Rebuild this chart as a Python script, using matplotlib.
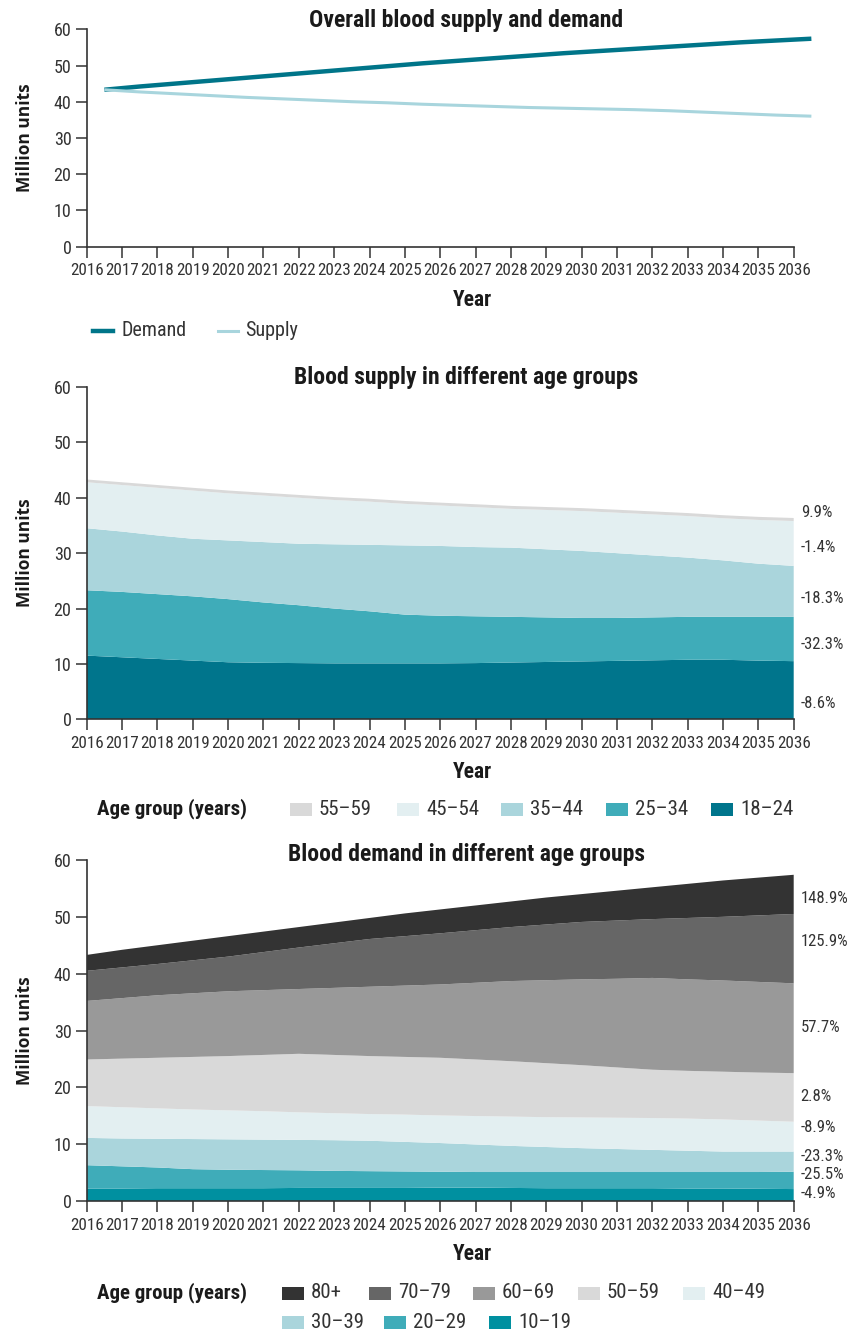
import matplotlib
matplotlib.use("Agg")
import matplotlib.pyplot as plt
import matplotlib.font_manager as fm
from matplotlib.patches import Rectangle
from matplotlib.lines import Line2D

# ----- data -----
years = list(range(2016, 2037))

demand = [43.3, 44.2, 45.0, 45.8, 46.6, 47.4, 48.2, 49.0, 49.8, 50.6, 51.3,
          52.0, 52.7, 53.4, 54.0, 54.6, 55.2, 55.8, 56.4, 56.9, 57.4]
supply = [43.3, 42.7, 42.2, 41.7, 41.2, 40.8, 40.4, 40.0, 39.7, 39.3, 39.0,
          38.7, 38.4, 38.2, 38.0, 37.8, 37.5, 37.1, 36.7, 36.3, 36.0]

# supply by donor age group (million units)
sup_18_24 = [11.5, 11.2, 10.9, 10.6, 10.3, 10.2, 10.15, 10.1, 10.1, 10.1, 10.1,
             10.15, 10.25, 10.35, 10.45, 10.55, 10.65, 10.75, 10.75, 10.6, 10.5]
sup_25_34 = [11.8, 11.8, 11.7, 11.6, 11.4, 10.9, 10.45, 9.9, 9.4, 8.8, 8.6,
             8.45, 8.25, 8.05, 7.85, 7.75, 7.75, 7.75, 7.75, 7.9, 8.0]
sup_35_44 = [11.2, 10.9, 10.6, 10.4, 10.6, 10.9, 11.1, 11.6, 12.0, 12.5, 12.6,
             12.5, 12.5, 12.3, 12.1, 11.7, 11.2, 10.7, 10.2, 9.6, 9.2]
sup_45_54 = [8.3, 8.4, 8.6, 8.7, 8.5, 8.4, 8.3, 8.0, 7.8, 7.5, 7.3,
             7.2, 7.0, 7.1, 7.2, 7.3, 7.4, 7.5, 7.6, 7.9, 8.1]
sup_55_59 = [0.50, 0.50, 0.50, 0.50, 0.51, 0.51, 0.51, 0.52, 0.52, 0.52, 0.52,
             0.53, 0.53, 0.53, 0.53, 0.54, 0.54, 0.54, 0.55, 0.55, 0.55]
sup_labels = ["18\u201324", "25\u201334", "35\u201344", "45\u201354", "55\u201359"]
sup_colors = ["#00758c", "#3facb9", "#aad5dc", "#e3eff1", "#d9d9d9"]
sup_change = ["-8.6%", "-32.3%", "-18.3%", "-1.4%", "9.9%"]
sup_change_y = [2.8, 13.5, 21.9, 31.0, 37.4]

# demand by recipient age group (million units)
dem_10_19 = [2.2, 2.2, 2.25, 2.25, 2.25, 2.25, 2.3, 2.3, 2.3, 2.3, 2.35,
             2.35, 2.3, 2.25, 2.25, 2.25, 2.25, 2.2, 2.2, 2.15, 2.1]
dem_20_29 = [4.1, 3.9, 3.65, 3.35, 3.25, 3.2, 3.1, 3.0, 2.95, 2.9, 2.8,
             2.75, 2.8, 2.85, 2.85, 2.85, 2.85, 2.9, 2.9, 2.95, 3.05]
dem_30_39 = [4.8, 4.9, 5.05, 5.3, 5.35, 5.35, 5.35, 5.4, 5.35, 5.2, 5.05,
             4.85, 4.6, 4.4, 4.2, 4.05, 3.9, 3.75, 3.6, 3.6, 3.55]
dem_40_49 = [5.6, 5.5, 5.35, 5.2, 5.1, 5.0, 4.85, 4.75, 4.7, 4.8, 4.85,
             5.0, 5.15, 5.25, 5.4, 5.5, 5.6, 5.65, 5.65, 5.45, 5.25]
dem_50_59 = [8.2, 8.55, 8.9, 9.25, 9.55, 9.9, 10.3, 10.25, 10.2, 10.15, 10.15,
             9.95, 9.75, 9.5, 9.2, 8.85, 8.5, 8.4, 8.4, 8.45, 8.55]
dem_60_69 = [10.3, 10.65, 11.0, 11.2, 11.4, 11.4, 11.4, 11.8, 12.2, 12.55, 12.9,
             13.5, 14.1, 14.6, 15.1, 15.6, 16.15, 16.1, 16.05, 15.95, 15.8]
dem_70_79 = [5.3, 5.4, 5.5, 5.8, 6.1, 6.7, 7.3, 7.85, 8.4, 8.7, 9.0,
             9.25, 9.5, 9.8, 10.1, 10.25, 10.35, 10.8, 11.2, 11.7, 12.2]
dem_80 = [2.8, 3.1, 3.3, 3.45, 3.6, 3.6, 3.6, 3.65, 3.7, 4.0, 4.2,
          4.35, 4.5, 4.75, 4.9, 5.25, 5.6, 6.0, 6.4, 6.65, 6.9]
dem_labels = ["10\u201319", "20\u201329", "30\u201339", "40\u201349", "50\u201359",
              "60\u201369", "70\u201379", "80+"]
dem_colors = ["#0090a0", "#3facb9", "#aad5dc", "#e3eff1", "#d9d9d9",
              "#999999", "#666666", "#333333"]
dem_change = ["-4.9%", "-25.5%", "-23.3%", "-8.9%", "2.8%", "57.7%", "125.9%", "148.9%"]
dem_change_y = [1.4, 4.6, 7.75, 12.9, 18.3, 30.6, 45.6, 53.2]

# ----- fonts -----
names = {f.name for f in fm.fontManager.ttflist}
COND = "DejaVu Sans"
for c in ["Roboto Condensed", "Fira Sans Condensed", "Encode Sans Condensed",
          "Barlow Condensed", "Liberation Sans Narrow"]:
    if c in names:
        COND = c
        break

TXT = "#333333"
DARK = "#1a1a1a"
W, H = 850, 1331
fig = plt.figure(figsize=(W / 100, H / 100), dpi=100)


def fx(x):
    return x / W


def fy(y):
    return 1 - y / H


def style_axes(ax):
    ax.set_xlim(2016, 2036)
    ax.set_ylim(0, 60)
    ax.set_yticks(range(0, 61, 10))
    ax.set_xticks(years)
    ax.set_xticklabels([str(y) for y in years])
    for s in ["top", "right"]:
        ax.spines[s].set_visible(False)
    for s in ["left", "bottom"]:
        ax.spines[s].set_color("#333333")
        ax.spines[s].set_linewidth(1.2)
    ax.tick_params(direction="out", length=8, width=1.1, color="#333333",
                   labelcolor=TXT)
    ax.tick_params(axis="x", pad=4, labelsize=12.3)
    ax.tick_params(axis="y", pad=3, labelsize=13)
    for lab in ax.get_xticklabels() + ax.get_yticklabels():
        lab.set_family(COND)
    ax.set_ylabel("Million units", fontsize=12.5, fontweight="bold",
                  family="Open Sans", color=DARK)
    ax.yaxis.set_label_coords(-0.074, 0.5)


def axes_box(top_px, bottom_px):
    left, right = 86.7, 793.7
    return [fx(left), fy(bottom_px), (right - left) / W, (bottom_px - top_px) / H]


def title(y, s):
    fig.text(fx(466), fy(y), s, ha="center", va="center",
             fontsize=17, fontweight="bold", family=COND, color=DARK)


def year_label(y):
    fig.text(fx(472), fy(y), "Year", ha="center", va="center",
             fontsize=15.5, fontweight="bold", family=COND, color=DARK)


def change_labels(ax, texts, ys):
    for txt, yv in zip(texts, ys):
        ax.annotate(txt, xy=(2036, yv), xytext=(5, 0), textcoords="offset points",
                    ha="left", va="center", fontsize=12, family=COND, color=TXT,
                    annotation_clip=False)


# ----- 1. overall supply and demand -----
ax1 = fig.add_axes(axes_box(29.3, 246.5))
style_axes(ax1)
xs = [y + 0.5 for y in years]
ax1.plot(xs, demand, color="#007589", lw=3.2, clip_on=False, solid_capstyle="butt")
ax1.plot(xs, supply, color="#a8d5dd", lw=2.2, clip_on=False, solid_capstyle="butt")

title(21, "Overall blood supply and demand")
year_label(300)
fig.add_artist(Line2D([fx(93), fx(113)], [fy(331), fy(331)], color="#007589", lw=3.2))
fig.text(fx(121), fy(331), "Demand", ha="left", va="center", fontsize=14.5,
         family=COND, color=TXT)
fig.add_artist(Line2D([fx(218), fx(238)], [fy(331), fy(331)], color="#a8d5dd", lw=2.2))
fig.text(fx(245), fy(331), "Supply", ha="left", va="center", fontsize=14.5,
         family=COND, color=TXT)

# ----- 2. supply by age group -----
ax2 = fig.add_axes(axes_box(387.0, 719.3))
ax2.stackplot(years, sup_18_24, sup_25_34, sup_35_44, sup_45_54, sup_55_59,
              colors=sup_colors, linewidth=0)
style_axes(ax2)
change_labels(ax2, sup_change, sup_change_y)

title(378, "Blood supply in different age groups")
year_label(772)
fig.text(fx(97), fy(809), "Age group (years)", ha="left", va="center",
         fontsize=15, fontweight="bold", family=COND, color=DARK)
sup_leg_x = [290, 397, 501, 606, 711]
for i, x0 in enumerate(sup_leg_x):
    k = 4 - i
    fig.add_artist(Rectangle((fx(x0), fy(816)), 22 / W, 13 / H,
                             transform=fig.transFigure, color=sup_colors[k], lw=0))
    fig.text(fx(x0 + 29), fy(809), sup_labels[k], ha="left", va="center",
             fontsize=15, family=COND, color=TXT)

# ----- 3. demand by age group -----
ax3 = fig.add_axes(axes_box(860.0, 1201.0))
ax3.stackplot(years, dem_10_19, dem_20_29, dem_30_39, dem_40_49, dem_50_59,
              dem_60_69, dem_70_79, dem_80, colors=dem_colors, linewidth=0)
style_axes(ax3)
change_labels(ax3, dem_change, dem_change_y)

title(855, "Blood demand in different age groups")
year_label(1254)
fig.text(fx(97), fy(1293), "Age group (years)", ha="left", va="center",
         fontsize=15, fontweight="bold", family=COND, color=DARK)
dem_leg = [(282, 1293), (369, 1293), (473, 1293), (578, 1293), (683, 1293),
           (282, 1322), (384, 1322), (489, 1322)]
for i, (x0, y0) in enumerate(dem_leg):
    k = 7 - i
    fig.add_artist(Rectangle((fx(x0), fy(y0 + 7)), 22 / W, 13 / H,
                             transform=fig.transFigure, color=dem_colors[k], lw=0))
    fig.text(fx(x0 + 29), fy(y0), dem_labels[k], ha="left", va="center",
             fontsize=15, family=COND, color=TXT)

fig.savefig("out.png", dpi=100)
